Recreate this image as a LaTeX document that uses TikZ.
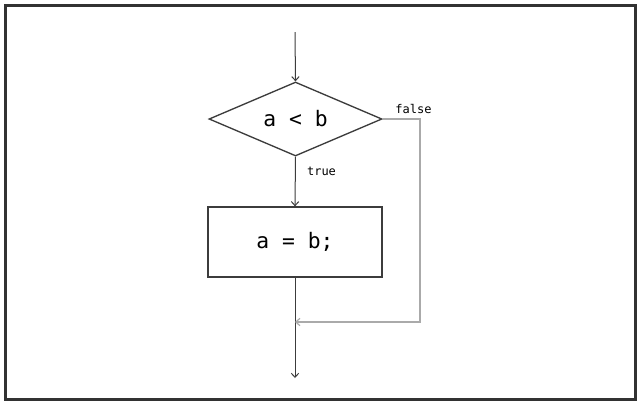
\documentclass[tikz,border=0pt]{standalone}
\usepackage{fontspec}
\setmonofont{DejaVu Sans Mono}
\usetikzlibrary{arrows.meta,shapes.geometric}
\definecolor{Frame}{RGB}{50,50,50}
\definecolor{Line}{RGB}{60,60,60}
\definecolor{FalsePath}{RGB}{170,170,170}
\tikzset{
  decision/.style={diamond,shape aspect=2.34,draw=Line,line width=1pt,inner sep=0pt,minimum width=129.75pt,minimum height=55.5pt,font=\ttfamily\fontsize{16}{19}\selectfont},
  stmt/.style={rectangle,draw=Line,line width=1pt,inner sep=0pt,minimum width=130.5pt,minimum height=52.5pt,font=\ttfamily\fontsize{16}{19}\selectfont},
  flow/.style={->,>={Straight Barb[length=3pt,width=5.5pt]},draw=Line,line width=0.75pt},
  falseflow/.style={->,>={Straight Barb[length=3pt,width=5.5pt]},draw=FalsePath,line width=0.9pt},
  branchlabel/.style={font=\ttfamily\fontsize{9}{11}\selectfont,inner sep=0pt}
}

\begin{document}
\begin{tikzpicture}[x=0.75pt,y=-0.75pt]
\fill[white] (0,0) rectangle (640,405);
\useasboundingbox (0,0) rectangle (640,405);
\draw[Frame,line width=2.4pt] (5.5,5.5) rectangle (635.5,399.5);

\coordinate (start) at (295,32);
\coordinate (merge) at (295,322);
\coordinate (end) at (295,378);
\coordinate (falseTop) at (420,119);
\coordinate (falseBottom) at (420,322);

\node[decision] (cond) at (295.5,119) {a < b};
\node[stmt] (assign) at (295,242) {a = b;};

\draw[flow](start)--(cond.north);
\draw[flow](cond.south)--(assign.north);
\draw[flow](assign.south)--(end);
\draw[falseflow](cond.east)--(falseTop)--(falseBottom)--(merge);

\node[branchlabel] (falseLabel) at (413.5,109) {false};
\node[branchlabel] (trueLabel) at (321.5,171) {true};
\end{tikzpicture}
\end{document}
